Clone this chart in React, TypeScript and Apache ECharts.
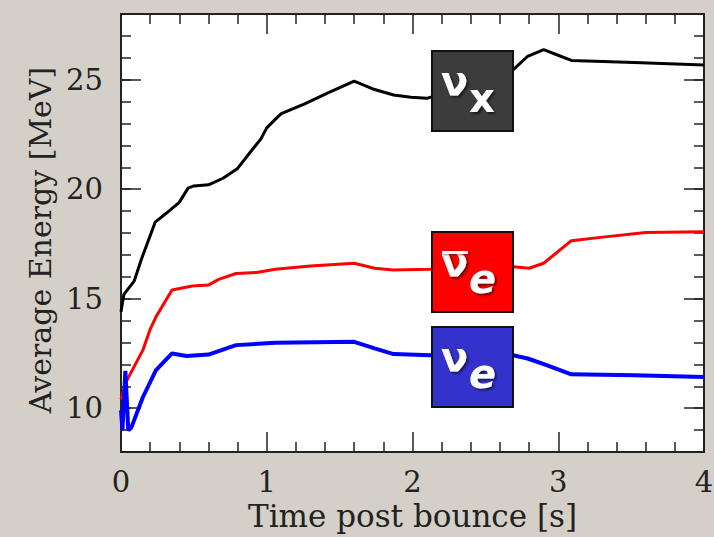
import React, { useEffect, useRef } from "react";
import * as echarts from "echarts";

const tNuX = [0, 0.02, 0.09, 0.14, 0.235, 0.31, 0.4, 0.46, 0.5, 0.6, 0.7, 0.8, 0.9, 0.96, 1.0, 1.06, 1.1, 1.26, 1.42, 1.6, 1.74, 1.87, 1.99, 2.1, 2.69, 2.79, 2.9, 2.99, 3.09, 3.52, 4.0];
const eNuX = [14.4, 15.2, 15.8, 16.8, 18.5, 18.9, 19.4, 20.05, 20.15, 20.2, 20.5, 20.95, 21.8, 22.3, 22.8, 23.2, 23.45, 23.9, 24.4, 24.93, 24.55, 24.3, 24.2, 24.15, 25.45, 26.07, 26.37, 26.14, 25.88, 25.79, 25.67];

const tNuEbar = [0, 0.035, 0.09, 0.15, 0.2, 0.24, 0.35, 0.49, 0.6, 0.67, 0.79, 0.93, 1.06, 1.3, 1.6, 1.74, 1.87, 2.12, 2.69, 2.8, 2.9, 3.09, 3.29, 3.6, 4.0];
const eNuEbar = [10.4, 11.2, 11.9, 12.65, 13.6, 14.17, 15.4, 15.58, 15.62, 15.88, 16.15, 16.2, 16.34, 16.49, 16.62, 16.39, 16.31, 16.34, 16.46, 16.39, 16.62, 17.65, 17.8, 18.02, 18.06];

const tNuE = [0, 0.01, 0.03, 0.05, 0.07, 0.15, 0.24, 0.35, 0.45, 0.6, 0.79, 1.06, 1.6, 1.74, 1.87, 2.12, 2.69, 2.79, 2.92, 3.09, 3.52, 4.0];
const eNuE = [9.9, 9.0, 11.7, 9.0, 9.1, 10.5, 11.74, 12.5, 12.38, 12.45, 12.88, 12.99, 13.03, 12.73, 12.47, 12.42, 12.42, 12.27, 11.97, 11.55, 11.51, 11.43];

const yMajor = [10, 15, 20, 25];
const xName = "Time post bounce [s]";
const yName = "Average Energy [MeV]";

const pairs = (t: number[], e: number[]) => t.map((v, i) => [v, e[i]]);

const FONT = "DejaVu Serif";
const INK = "#222";

export default function App() {
  const ref = useRef<HTMLDivElement>(null);
  useEffect(() => {
    document.body.style.margin = "0";
    const chart = echarts.init(ref.current!, undefined, { renderer: "svg" });
    const tickStyle = { color: INK, width: 1.5 };
    const xBase = (pos: "bottom" | "top", labels: boolean) => ({
      type: "value",
      position: pos,
      min: 0,
      max: 4,
      interval: 1,
      name: labels ? xName : "",
      nameLocation: "middle",
      nameGap: 48,
      nameTextStyle: { fontFamily: FONT, fontSize: 31, color: INK },
      axisLine: { show: true, lineStyle: { color: INK, width: 2 } },
      axisTick: { show: true, inside: true, length: 20, lineStyle: tickStyle },
      minorTick: { show: true, splitNumber: 5, length: 10, lineStyle: tickStyle },
      axisLabel: { show: labels, margin: 15, fontFamily: FONT, fontSize: 29, color: INK },
      splitLine: { show: false },
      minorSplitLine: { show: false },
    });
    const yMajorAxis = (pos: "left" | "right", labels: boolean) => ({
      type: "value",
      position: pos,
      min: 8,
      max: 28,
      name: labels ? yName : "",
      nameLocation: "middle",
      nameGap: 66,
      nameTextStyle: { fontFamily: FONT, fontSize: 30, color: INK, padding: [0, 14, 0, 0] },
      axisLine: { show: true, lineStyle: { color: INK, width: 2 } },
      axisTick: { show: true, inside: true, length: 20, customValues: yMajor, lineStyle: tickStyle },
      axisLabel: { show: labels, customValues: yMajor, margin: 18, fontFamily: FONT, fontSize: 29, color: INK },
      splitLine: { show: false },
    });
    const yMinorAxis = (pos: "left" | "right") => ({
      type: "value",
      position: pos,
      min: 8,
      max: 28,
      interval: 1,
      axisLine: { show: true, lineStyle: { color: INK, width: 2 } },
      axisTick: { show: true, inside: true, length: 10, lineStyle: tickStyle },
      axisLabel: { show: false },
      splitLine: { show: false },
    });

    const shadow = {
      textShadowColor: "rgba(0,0,0,0.55)",
      textShadowBlur: 2,
      textShadowOffsetX: 2,
      textShadowOffsetY: 2,
    };
    const box = (x: number, y: number, fill: string, sub: string, bar: boolean) => {
      const els: any[] = [
        { type: "rect", x, y, z: 100, shape: { x: 0, y: 0, width: 81, height: 80 }, style: { fill, stroke: "#111", lineWidth: 2 } },
        {
          type: "text",
          x: x + 9,
          y: y + 10,
          z: 101,
          style: { text: "ν", fill: "#fff", font: "bold 40px 'DejaVu Sans'", ...shadow },
        },
        {
          type: "text",
          x: x + 37,
          y: y + 27,
          z: 101,
          style: {
            text: sub,
            fill: "#fff",
            font: sub === "x" ? "bold 40px 'DejaVu Sans'" : "italic bold 40px 'DejaVu Sans'",
            ...shadow,
          },
        },
      ];
      if (bar) {
        els.push({
          type: "rect",
          x: x + 10,
          y: y + 19,
          z: 102,
          shape: { x: 0, y: 0, width: 26, height: 3 },
          style: { fill: "#fff", shadowColor: "rgba(0,0,0,0.5)", shadowBlur: 2, shadowOffsetX: 1, shadowOffsetY: 1 },
        });
      }
      return els;
    };

    chart.setOption({
      animation: false,
      backgroundColor: "#d4d0c8",
      grid: {
        left: 121,
        right: 10,
        top: 14,
        bottom: 85,
        show: true,
        backgroundColor: "#fff",
        borderWidth: 0,
        containLabel: false,
        outerBoundsMode: "none",
      },
      xAxis: [xBase("bottom", true), xBase("top", false)],
      yAxis: [yMajorAxis("left", true), yMinorAxis("left"), yMajorAxis("right", false), yMinorAxis("right")],
      series: [
        { type: "line", data: pairs(tNuX, eNuX), showSymbol: false, lineStyle: { color: "#000", width: 3 }, z: 3 },
        { type: "line", data: pairs(tNuEbar, eNuEbar), showSymbol: false, lineStyle: { color: "#ff0000", width: 3 }, z: 3 },
        { type: "line", data: pairs(tNuE, eNuE), showSymbol: false, lineStyle: { color: "#0000ff", width: 4 }, z: 3 },
      ],
      graphic: [
        ...box(432, 51, "#3c3c3c", "x", false),
        ...box(432, 232, "#ff0000", "e", true),
        ...box(432, 327, "#3333cc", "e", false),
      ],
    });
    return () => chart.dispose();
  }, []);
  return <div ref={ref} style={{ width: 714, height: 537 }} />;
}
